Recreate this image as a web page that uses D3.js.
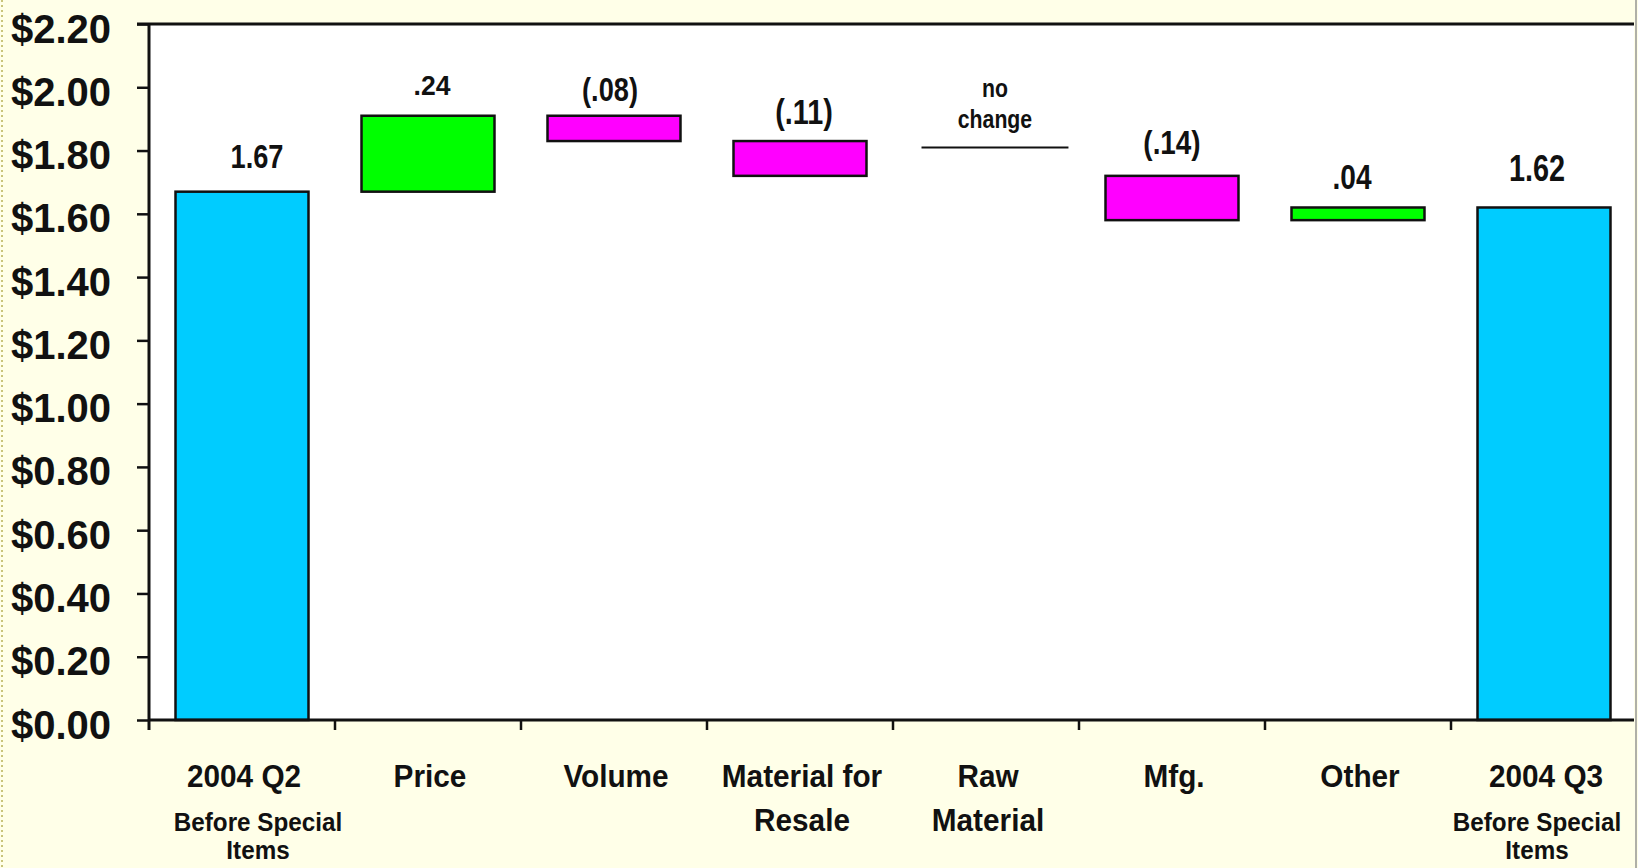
<!DOCTYPE html>
<html><head><meta charset="utf-8">
<script src="https://cdn.jsdelivr.net/npm/d3@7"></script>
<style>html,body{margin:0;padding:0;background:#FFFFE8;overflow:hidden}</style>
</head><body><svg id="c" width="1638" height="868"></svg>
<script>
// ---------- DATA ----------
const categories = ["2004 Q2","Price","Volume","Material for Resale","Raw Material","Mfg.","Other","2004 Q3"];
const categoryLines = [["2004 Q2"],["Price"],["Volume"],["Material for","Resale"],["Raw","Material"],["Mfg."],["Other"],["2004 Q3"]];
const subLabels = [["Before Special","Items"],[],[],[],[],[],[],["Before Special","Items"]];
const kinds = ["total","delta","delta","delta","delta","delta","delta","total"];
const values = [1.67, 0.24, -0.08, -0.11, 0, -0.14, 0.04, 1.62];
const noChangeLevel = 1.81;
const noChangeText = ["no","change"];
const yTicks = [0,0.2,0.4,0.6,0.8,1.0,1.2,1.4,1.6,1.8,2.0,2.2];

// ---------- STYLE ----------
const colors = {total:"#00CCFF", up:"#00FF00", down:"#FF00FF"};
const labelSize   = [34, 28, 34, 36, 0, 34, 36, 37];
const labelScaleX = [0.8, 0.95, 0.8, 0.8, 1, 0.82, 0.78, 0.78];
const labelGap    = [24, 21, 15, 17, 0, 22, 18, 26];
const labelDx     = [15, 4, -4, 4, 0, 0, -6, -7];
const subDx       = [14, 0, 0, 0, 0, 0, 0, -9];
const FONT = "'Liberation Sans', Arial, sans-serif";

const svg = d3.select("#c");
const W = 1638, H = 868;
const pL = 149, pR = 1637, pT = 24, pB = 720;

// slide edges
svg.append("line").attr("x1",2).attr("x2",2).attr("y1",0).attr("y2",H)
  .attr("stroke","#c9c47a").attr("stroke-width",2).attr("stroke-dasharray","2,3");
// plot background
svg.append("rect").attr("x",pL).attr("y",pT).attr("width",1634-pL).attr("height",pB-pT).attr("fill","#ffffff");

const x = d3.scaleBand().domain(categories).range([pL,pR]).paddingInner(0.285).paddingOuter(0.1425);
const y = d3.scaleLinear().domain([0,2.2]).range([pB,pT]);
const step = x.step();

// compute waterfall
let running = 0;
const bars = categories.map((c,i)=>{
  const v = values[i];
  let y0, y1, kind;
  if (kinds[i]==="total"){ y0=0; y1=v; running=v; kind="total"; }
  else { y0=running; y1=running+v; running=y1; kind = v>=0 ? "up":"down"; }
  return {c, i, v, y0, y1, kind, k: kinds[i]};
});

// bars
svg.append("g").selectAll("rect").data(bars.filter(d=>d.v!==0)).join("rect")
  .attr("x",d=>x(d.c)).attr("width",x.bandwidth())
  .attr("y",d=>y(Math.max(d.y0,d.y1))).attr("height",d=>Math.abs(y(d.y0)-y(d.y1)))
  .attr("fill",d=>colors[d.kind]).attr("stroke","#111").attr("stroke-width",2.5);

// no change marker
const nc = bars.find(d=>d.k==="delta" && d.v===0);
if (nc){
  const x0 = x(nc.c)+2, x1 = x(nc.c)+x.bandwidth()*1.12;
  svg.append("line").attr("x1",x0).attr("x2",x1).attr("y1",y(noChangeLevel)).attr("y2",y(noChangeLevel))
    .attr("stroke","#111").attr("stroke-width",2);
  const cx = (x0+x1)/2;
  noChangeText.forEach((t,j)=>{
    svg.append("text").attr("transform",`translate(${cx},${y(noChangeLevel)-50+j*31}) scale(0.85,1)`)
      .attr("text-anchor","middle").attr("font-family",FONT).attr("font-weight","bold")
      .attr("font-size",25).attr("fill","#111").text(t);
  });
}

// value labels
const fmtDelta = v => { const s = d3.format(".2f")(Math.abs(v)).replace(/^0/,""); return v<0?`(${s})`:s; };
svg.append("g").selectAll("text").data(bars.filter(d=>d.v!==0)).join("text")
  .attr("transform",d=>`translate(${x(d.c)+x.bandwidth()/2+labelDx[d.i]},${y(Math.max(d.y0,d.y1))-labelGap[d.i]}) scale(${labelScaleX[d.i]},1)`)
  .attr("text-anchor","middle").attr("font-family",FONT).attr("font-weight","bold")
  .attr("font-size",d=>labelSize[d.i]).attr("fill","#111")
  .text(d=>d.k==="total"? d3.format(".2f")(d.v) : fmtDelta(d.v));

// top border
svg.append("line").attr("x1",137).attr("x2",1634).attr("y1",pT).attr("y2",pT).attr("stroke","#111").attr("stroke-width",3);

// y axis
const yAxis = d3.axisLeft(y).tickValues(yTicks).tickFormat(d3.format("$.2f")).tickSize(12).tickSizeOuter(0).tickPadding(26);
const ga = svg.append("g").attr("transform",`translate(${pL},0)`).call(yAxis);
ga.select(".domain").remove();
ga.selectAll(".tick line").attr("stroke","#111").attr("stroke-width",2.5);
ga.selectAll(".tick text").attr("font-family",FONT).attr("font-weight","bold").attr("font-size",40)
  .attr("fill","#111").attr("dy","0.45em");
svg.append("line").attr("x1",pL).attr("x2",pL).attr("y1",pT).attr("y2",pB+10).attr("stroke","#111").attr("stroke-width",3);

// x axis
svg.append("line").attr("x1",pL).attr("x2",1634).attr("y1",pB).attr("y2",pB).attr("stroke","#111").attr("stroke-width",3);
const bounds = categories.map(c=>x(c)-step*x.paddingInner()/2).concat([x(categories[categories.length-1])+x.bandwidth()+step*x.paddingInner()/2]);
svg.append("g").selectAll("line").data(bounds.slice(1,-1)).join("line")
  .attr("x1",d=>d).attr("x2",d=>d).attr("y1",pB).attr("y2",pB+10).attr("stroke","#111").attr("stroke-width",2.5);

// category labels
categories.forEach((c,i)=>{
  const cx = x(c)+x.bandwidth()/2+2;
  categoryLines[i].forEach((t,j)=>{
    svg.append("text").attr("transform",`translate(${cx},${787+j*44}) scale(0.93,1)`)
      .attr("text-anchor","middle").attr("font-family",FONT).attr("font-weight","bold")
      .attr("font-size",32).attr("fill","#111").text(t);
  });
  subLabels[i].forEach((t,j)=>{
    svg.append("text").attr("transform",`translate(${cx+subDx[i]},${831+j*28}) scale(0.97,1)`)
      .attr("text-anchor","middle").attr("font-family",FONT).attr("font-weight","bold")
      .attr("font-size",25).attr("fill","#111").text(t);
  });
});

// right edge
svg.append("line").attr("x1",1636).attr("x2",1636).attr("y1",0).attr("y2",H).attr("stroke","#b0b0a8").attr("stroke-width",2);
</script></body></html>
